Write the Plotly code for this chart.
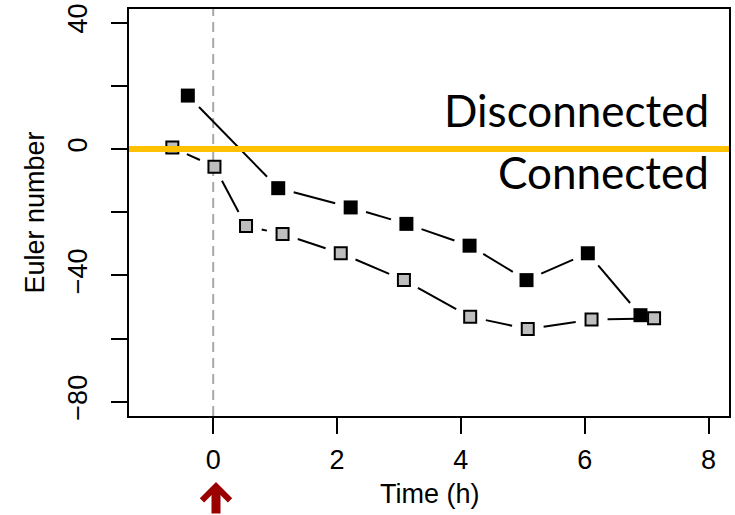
import math
import plotly.graph_objects as go

# ---- data ----
black_time = [-0.41, 1.05, 2.22, 3.12, 4.14, 5.06, 6.05, 6.90]
black_euler = [16.9, -12.4, -18.5, -23.7, -30.6, -41.5, -33.0, -52.6]
grey_time = [-0.66, 0.02, 0.53, 1.12, 2.06, 3.08, 4.15, 5.08, 6.11, 7.12]
grey_euler = [0.5, -5.6, -24.4, -26.9, -33.0, -41.5, -53.1, -57.0, -54.0, -53.6]

x_ticks = [0, 2, 4, 6, 8]
y_ticks = [-80, -60, -40, -20, 0, 20, 40]
y_ticktext = ["\u221280", "", "\u221240", "", "0", "", "40"]
threshold = 0            # Euler number separating connected / disconnected
treatment_time = 0       # time of treatment (dashed line, arrow)

# ---- layout geometry (body margin removed via post_script) ----
W, H = 735, 515
ML, MR, MT, MB = 129, 6, 9, 99
X_RANGE = [-1.36, 8.33]
Y_RANGE = [-84.5, 44.3]
px_x = (W - ML - MR) / (X_RANGE[1] - X_RANGE[0])
px_y = (H - MT - MB) / (Y_RANGE[1] - Y_RANGE[0])
GAP = 16  # px gap around points (R type="b")

def gapped(xs, ys):
    lx, ly = [], []
    for i in range(len(xs) - 1):
        x1, y1, x2, y2 = xs[i], ys[i], xs[i + 1], ys[i + 1]
        L = math.hypot((x2 - x1) * px_x, (y2 - y1) * px_y)
        if L <= 2 * GAP:
            continue
        f = GAP / L
        lx += [x1 + f * (x2 - x1), x2 - f * (x2 - x1), None]
        ly += [y1 + f * (y2 - y1), y2 - f * (y2 - y1), None]
    return lx, ly

FONT = "Liberation Sans, Arial, sans-serif"
fig = go.Figure()

for xs, ys in [(black_time, black_euler), (grey_time, grey_euler)]:
    lx, ly = gapped(xs, ys)
    fig.add_trace(go.Scatter(x=lx, y=ly, mode="lines",
                             line=dict(color="black", width=2),
                             hoverinfo="skip", showlegend=False))

fig.add_trace(go.Scatter(x=black_time, y=black_euler, mode="markers",
                         marker=dict(symbol="square", size=14, color="black",
                                     line=dict(width=0)),
                         showlegend=False))
fig.add_trace(go.Scatter(x=grey_time, y=grey_euler, mode="markers",
                         marker=dict(symbol="square", size=12, color="#bebebe",
                                     line=dict(width=2, color="black")),
                         showlegend=False))

fig.add_shape(type="line", xref="x", yref="paper", x0=treatment_time, x1=treatment_time,
              y0=0, y1=1, line=dict(color="#a8a8a8", width=2, dash="10px,6px"),
              layer="below")
fig.add_shape(type="line", xref="paper", yref="y", x0=0, x1=1, y0=threshold, y1=threshold,
              line=dict(color="#ffc000", width=6), layer="above")

def pxx(X):
    return (X - ML) / (W - ML - MR)

def pxy(Y):
    return (H - MB - Y) / (H - MT - MB)

TXT = "Lato, Liberation Sans, sans-serif"
fig.add_annotation(text="Disconnected", xref="paper", yref="paper", x=pxx(711), y=pxy(110),
                   xanchor="right", yanchor="middle", showarrow=False,
                   font=dict(family=TXT, size=44, color="black"))
fig.add_annotation(text="Connected", xref="paper", yref="paper", x=pxx(711), y=pxy(172),
                   xanchor="right", yanchor="middle", showarrow=False,
                   font=dict(family=TXT, size=44, color="black"))

fig.add_annotation(text="Time (h)", xref="paper", yref="paper", x=pxx(430), y=pxy(494),
                   xanchor="center", yanchor="middle", showarrow=False,
                   font=dict(family=FONT, size=27, color="black"))
fig.add_annotation(text="Euler number", xref="paper", yref="paper", x=pxx(34), y=0.5,
                   xanchor="center", yanchor="middle", textangle=-90, showarrow=False,
                   font=dict(family=FONT, size=27, color="black"))

# arrow marking treatment
fig.add_annotation(text="", xref="paper", yref="paper", x=pxx(216), y=pxy(482),
                   ax=0, ay=45, showarrow=True, arrowhead=4, arrowwidth=9,
                   arrowsize=0.6, arrowcolor="#9a0000", standoff=0)

fig.update_xaxes(range=X_RANGE, tickvals=x_ticks, ticks="outside", ticklen=16,
                 tickwidth=2, tickcolor="black", showline=True, mirror=True,
                 linewidth=2, linecolor="black", showgrid=False, zeroline=False,
                 automargin=False, ticklabelstandoff=3, ticklabeloverflow="allow",
                 tickfont=dict(family=FONT, size=27, color="black"))
fig.update_yaxes(range=Y_RANGE, tickvals=y_ticks, ticktext=y_ticktext, tickangle=-90,
                 ticks="outside", ticklen=16, tickwidth=2, tickcolor="black",
                 showline=True, mirror=True, linewidth=2, linecolor="black",
                 showgrid=False, zeroline=False, automargin=False, ticklabelstandoff=13,
                 ticklabeloverflow="allow",
                 tickfont=dict(family=FONT, size=27, color="black"))

fig.update_layout(width=W, height=H, margin=dict(l=ML, r=MR, t=MT, b=MB),
                  paper_bgcolor="white", plot_bgcolor="white", showlegend=False)

fig.write_html("out.html", config={"displayModeBar": False},
               post_script="document.body.style.margin='0';document.body.style.overflow='hidden';")
